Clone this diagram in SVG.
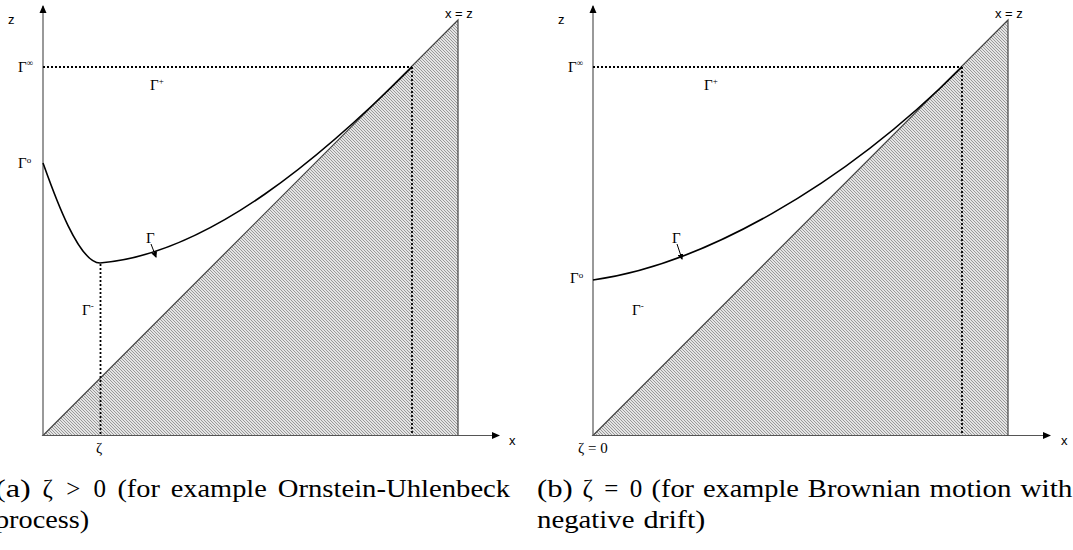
<svg xmlns="http://www.w3.org/2000/svg" width="1073" height="550" viewBox="0 0 1073 550">
<style>
.axis{stroke:#555;stroke-width:1.2;fill:none}
.tri{fill:url(#hatch);stroke:#444;stroke-width:1.2}
.dot{stroke:#000;stroke-width:1.8;stroke-dasharray:2,2;fill:none}
.curve{stroke:#000;stroke-width:1.6;fill:none}
.lbl{font-family:"Liberation Sans",Arial,sans-serif;font-size:13px;fill:#000}
.g{font-family:"Liberation Serif","Times New Roman",serif;font-size:15px;fill:#000}
.sup{font-size:9px}
.cap{font-family:"Liberation Serif","Times New Roman",serif;font-size:25px;fill:#000}
.mid{text-anchor:middle}
.ptr{stroke:#000;stroke-width:1;fill:none}
</style>
<defs>
<pattern id="hatch" width="3" height="3" patternUnits="userSpaceOnUse">
<rect width="3" height="3" fill="#e4e4e4"/>
<path d="M0,0 L3,3 M-1,2 L1,4 M2,-1 L4,1" stroke="#999" stroke-width="1"/>
</pattern>
<marker id="ah" markerWidth="8" markerHeight="8" refX="7" refY="4" orient="auto" markerUnits="userSpaceOnUse">
<path d="M0,0.5 L8,4 L0,7.5 Z" fill="#000"/>
</marker>
<marker id="sa" markerWidth="6" markerHeight="6" refX="5" refY="3" orient="auto" markerUnits="userSpaceOnUse">
<path d="M0,0 L6,3 L0,6 Z" fill="#000"/>
</marker>
</defs>

<g id="panel-a">
<g id="a-region">
<polygon class="tri" points="43,435.5 458,20 458,435.5"/>
</g>
<g id="a-connectors">
<line class="axis" x1="43" y1="435.5" x2="43" y2="6" marker-end="url(#ah)"/>
<line class="axis" x1="43" y1="435.5" x2="499" y2="435.5" marker-end="url(#ah)"/>
<line class="dot" x1="43" y1="67" x2="412" y2="67"/>
<line class="dot" x1="412" y1="67" x2="412" y2="435"/>
<line class="dot" x1="100.5" y1="264" x2="100.5" y2="435"/>
<path class="curve" d="M43,163 C53,191 78,263 100,263 C210,254 325,154 412,67"/>
<line class="ptr" x1="151" y1="244" x2="156" y2="257" marker-end="url(#sa)"/>
</g>
<g id="a-labels">
<text class="lbl" x="8" y="24">z</text>
<text class="lbl" x="509" y="445">x</text>
<text class="lbl" x="445" y="18">x = z</text>
<text class="g" x="18" y="72">Γ<tspan class="sup" dy="-6">∞</tspan></text>
<text class="g" x="18" y="168">Γ<tspan class="sup" dy="-5">o</tspan></text>
<text class="g" x="150" y="90">Γ<tspan class="sup" dy="-6">+</tspan></text>
<text class="g" x="146" y="243">Γ</text>
<text class="g" x="82" y="315">Γ<tspan class="sup" dy="-6">-</tspan></text>
<text class="g" x="96" y="453">ζ</text>
</g>
</g>

<g id="panel-b">
<g id="b-region">
<polygon class="tri" points="593,435.5 1008,20 1008,435.5"/>
</g>
<g id="b-connectors">
<line class="axis" x1="593" y1="435.5" x2="593" y2="6" marker-end="url(#ah)"/>
<line class="axis" x1="593" y1="435.5" x2="1050" y2="435.5" marker-end="url(#ah)"/>
<line class="dot" x1="593" y1="67" x2="962" y2="67"/>
<line class="dot" x1="962" y1="67" x2="962" y2="435"/>
<path class="curve" d="M593,280 C700,265 840,189 962,67"/>
<line class="ptr" x1="677" y1="244" x2="682" y2="259" marker-end="url(#sa)"/>
</g>
<g id="b-labels">
<text class="lbl" x="558" y="24">z</text>
<text class="lbl" x="1061" y="445">x</text>
<text class="lbl" x="995" y="18">x = z</text>
<text class="g" x="568" y="72">Γ<tspan class="sup" dy="-6">∞</tspan></text>
<text class="g" x="570" y="283">Γ<tspan class="sup" dy="-5">o</tspan></text>
<text class="g" x="704" y="90">Γ<tspan class="sup" dy="-6">+</tspan></text>
<text class="g" x="672" y="243">Γ</text>
<text class="g" x="632" y="315">Γ<tspan class="sup" dy="-6">-</tspan></text>
<text class="g" x="578" y="453" font-size="13">ζ = 0</text>
</g>
</g>

<g id="captions">
<text class="cap" x="-5" y="497" textLength="35.8" lengthAdjust="spacingAndGlyphs">(a)</text>
<text class="cap mid" x="47.6" y="497">ζ</text>
<text class="cap mid" x="73.3" y="497">&gt;</text>
<text class="cap mid" x="99.8" y="497">0</text>
<text class="cap" x="117.4" y="497" textLength="42.5" lengthAdjust="spacingAndGlyphs">(for</text>
<text class="cap" x="170.8" y="497" textLength="96" lengthAdjust="spacingAndGlyphs">example</text>
<text class="cap" x="277.7" y="497" textLength="232.5" lengthAdjust="spacingAndGlyphs">Ornstein-Uhlenbeck</text>
<text class="cap" x="-5" y="528" textLength="94.1" lengthAdjust="spacingAndGlyphs">process)</text>

<text class="cap" x="537" y="497" textLength="35.8" lengthAdjust="spacingAndGlyphs">(b)</text>
<text class="cap mid" x="587.6" y="497">ζ</text>
<text class="cap mid" x="611.4" y="497">=</text>
<text class="cap mid" x="635.9" y="497">0</text>
<text class="cap" x="651.5" y="497" textLength="42.5" lengthAdjust="spacingAndGlyphs">(for</text>
<text class="cap" x="702.9" y="497" textLength="96" lengthAdjust="spacingAndGlyphs">example</text>
<text class="cap" x="807.8" y="497" textLength="112.9" lengthAdjust="spacingAndGlyphs">Brownian</text>
<text class="cap" x="929.6" y="497" textLength="81.9" lengthAdjust="spacingAndGlyphs">motion</text>
<text class="cap" x="1020.4" y="497" textLength="52.1" lengthAdjust="spacingAndGlyphs">with</text>
<text class="cap" x="537" y="528" textLength="97.5" lengthAdjust="spacingAndGlyphs">negative</text>
<text class="cap" x="643.4" y="528" textLength="61.9" lengthAdjust="spacingAndGlyphs">drift)</text>
</g>
</svg>
